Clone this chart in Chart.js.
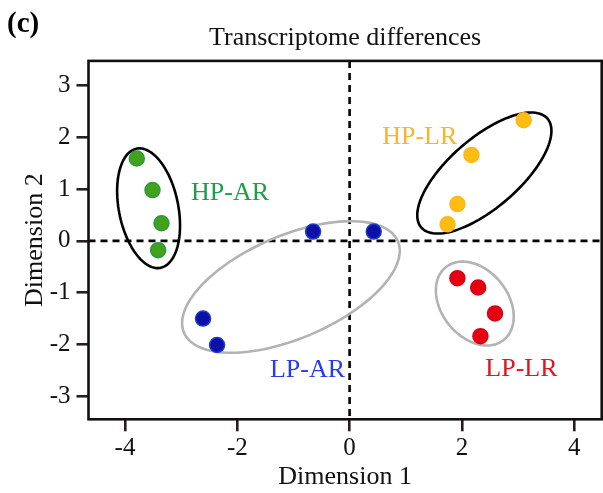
<!DOCTYPE html>
<html>
<head>
<meta charset="utf-8">
<script src="https://cdn.jsdelivr.net/npm/chart.js@4.4.1/dist/chart.umd.min.js"></script>
<style>
  html, body { margin: 0; padding: 0; background: #fff; }
  canvas { display: block; }
</style>
</head>
<body>
<canvas id="chart" width="603" height="493"></canvas>
<script>
// group names (also used as in-plot labels)
const groups = ['HP-AR', 'LP-AR', 'HP-LR', 'LP-LR'];

// sample coordinates per group (Dimension 1, Dimension 2)
const hpArX = [-3.79, -3.51, -3.35, -3.41];
const hpArY = [1.59, 0.98, 0.34, -0.18];
const lpArX = [-0.65, 0.43, -2.61, -2.36];
const lpArY = [0.18, 0.18, -1.50, -2.01];
const hpLrX = [3.10, 2.17, 1.92, 1.745];
const hpLrY = [2.33, 1.66, 0.71, 0.32];
const lpLrX = [1.92, 2.29, 2.59, 2.33];
const lpLrY = [-0.72, -0.90, -1.40, -1.84];

// cluster ellipses: centre, semi-axes and angle (degrees), in data units
const ellipseCx = [-3.58, -1.045, 2.40, 2.23];
const ellipseCy = [0.63, -0.89, 1.31, -1.21];
const ellipseA = [1.17, 2.10, 1.54, 0.874];
const ellipseB = [0.53, 0.98, 0.65, 0.61];
const ellipseAngle = [100, 25.8, 44.1, -58.2];

// where the group names sit
const labelX = [-2.13, -0.75, 1.25, 3.06];
const labelY = [0.92, -2.49, 2.01, -2.47];

// axis ticks
const xTicks = [-4, -2, 0, 2, 4];
const yTicks = [-3, -2, -1, 0, 1, 2, 3];

const FONT = "'Liberation Serif', 'Times New Roman', serif";
const pointFill = ['#43a21c', '#0c10a8', '#ffbd14', '#e6000f'];
const pointEdge = ['#2a9a40', '#1c3cc4', '#ffb61a', '#d4001c'];
const labelColor = ['#1c9e4a', '#2b3be8', '#f7b52f', '#e3141e'];
const ellipseColor = ['#000000', '#b3b3b3', '#000000', '#b3b3b3'];

const xs = [hpArX, lpArX, hpLrX, lpLrX];
const ys = [hpArY, lpArY, hpLrY, lpLrY];

// build scatter datasets
const datasets = groups.map((g, i) => ({
    label: g,
    data: xs[i].map((x, k) => ({ x: x, y: ys[i][k] })),
    backgroundColor: pointFill[i],
    borderColor: pointEdge[i],
    borderWidth: 1.5,
    pointRadius: 7.5,
    pointHoverRadius: 7.5
}));

// dashed zero lines, ellipses and frame
const decorPlugin = {
    id: 'decor',
    beforeDatasetsDraw(chart) {
        const { ctx, chartArea: a, scales: { x, y } } = chart;
        ctx.save();
        // zero lines
        ctx.strokeStyle = '#000';
        ctx.lineWidth = 2.6;
        ctx.setLineDash([7, 5]);
        ctx.beginPath();
        ctx.moveTo(a.left, y.getPixelForValue(0));
        ctx.lineTo(a.right, y.getPixelForValue(0));
        ctx.moveTo(x.getPixelForValue(0), a.top);
        ctx.lineTo(x.getPixelForValue(0), a.bottom);
        ctx.stroke();
        ctx.setLineDash([]);

        // ellipses
        ctx.lineWidth = 2.6;
        for (let i = 0; i < groups.length; i++) {
            const t = ellipseAngle[i] * Math.PI / 180;
            ctx.strokeStyle = ellipseColor[i];
            ctx.beginPath();
            for (let k = 0; k <= 120; k++) {
                const s = k / 120 * 2 * Math.PI;
                const u = ellipseA[i] * Math.cos(s);
                const v = ellipseB[i] * Math.sin(s);
                const px = x.getPixelForValue(ellipseCx[i] + u * Math.cos(t) - v * Math.sin(t));
                const py = y.getPixelForValue(ellipseCy[i] + u * Math.sin(t) + v * Math.cos(t));
                if (k === 0) ctx.moveTo(px, py); else ctx.lineTo(px, py);
            }
            ctx.closePath();
            ctx.stroke();
        }
        ctx.restore();
    },
    afterDraw(chart) {
        const { ctx, chartArea: a, scales: { x, y } } = chart;
        ctx.save();
        // plot frame
        ctx.strokeStyle = '#111';
        ctx.lineWidth = 2.6;
        ctx.strokeRect(a.left, a.top, a.right - a.left, a.bottom - a.top);

        // group labels
        ctx.font = '26px ' + FONT;
        ctx.textAlign = 'center';
        ctx.textBaseline = 'middle';
        groups.forEach((g, i) => {
            ctx.fillStyle = labelColor[i];
            ctx.fillText(g, x.getPixelForValue(labelX[i]), y.getPixelForValue(labelY[i]));
        });

        // panel letter
        ctx.fillStyle = '#000';
        ctx.font = 'bold 29px ' + FONT;
        ctx.textAlign = 'left';
        ctx.fillText('(c)', 7, 25);
        ctx.restore();
    }
};

const ctx = document.getElementById('chart').getContext('2d');
const chart = new Chart(ctx, {
    type: 'scatter',
    data: { datasets: datasets },
    options: {
        responsive: false,
        animation: false,
        layout: { autoPadding: false, padding: { left: 0, right: 1.3, top: 0, bottom: 0 } },
        plugins: {
            legend: { display: false },
            tooltip: { enabled: false },
            title: {
                display: true,
                fullSize: false,
                text: 'Transcriptome differences',
                color: '#111',
                font: { family: FONT, size: 26, weight: 'normal', lineHeight: 1.15 },
                padding: { top: 23, bottom: 8 }
            }
        },
        scales: {
            x: {
                type: 'linear',
                min: -4.65,
                max: 4.49,
                afterBuildTicks: s => { s.ticks = xTicks.map(v => ({ value: v })); },
                afterFit: s => { s.height = 73.7; s.paddingLeft = 0; s.paddingRight = 0; },
                grid: { drawOnChartArea: false, tickLength: 12, color: '#2a1f1f', tickColor: '#2a1f1f', lineWidth: 2.6 },
                border: { display: false },
                ticks: { color: '#111', font: { family: FONT, size: 25 }, padding: 2, maxRotation: 0, callback: v => String(v) },
                title: { display: true, text: 'Dimension 1', color: '#111', font: { family: FONT, size: 26 }, padding: { top: 0, bottom: 0 } }
            },
            y: {
                type: 'linear',
                min: -3.445,
                max: 3.475,
                afterBuildTicks: s => { s.ticks = yTicks.map(v => ({ value: v })); },
                afterFit: s => { s.width = 88.5; s.paddingTop = 0; s.paddingBottom = 0; },
                grid: { drawOnChartArea: false, tickLength: 12, color: '#2a1f1f', tickColor: '#2a1f1f', lineWidth: 2.6 },
                border: { display: false },
                ticks: { color: '#111', font: { family: FONT, size: 25 }, padding: 6, callback: v => String(v) },
                title: { display: true, text: 'Dimension 2', color: '#111', font: { family: FONT, size: 26 }, padding: { top: 20, bottom: 0 } }
            }
        }
    },
    plugins: [decorPlugin]
});
</script>
</body>
</html>
